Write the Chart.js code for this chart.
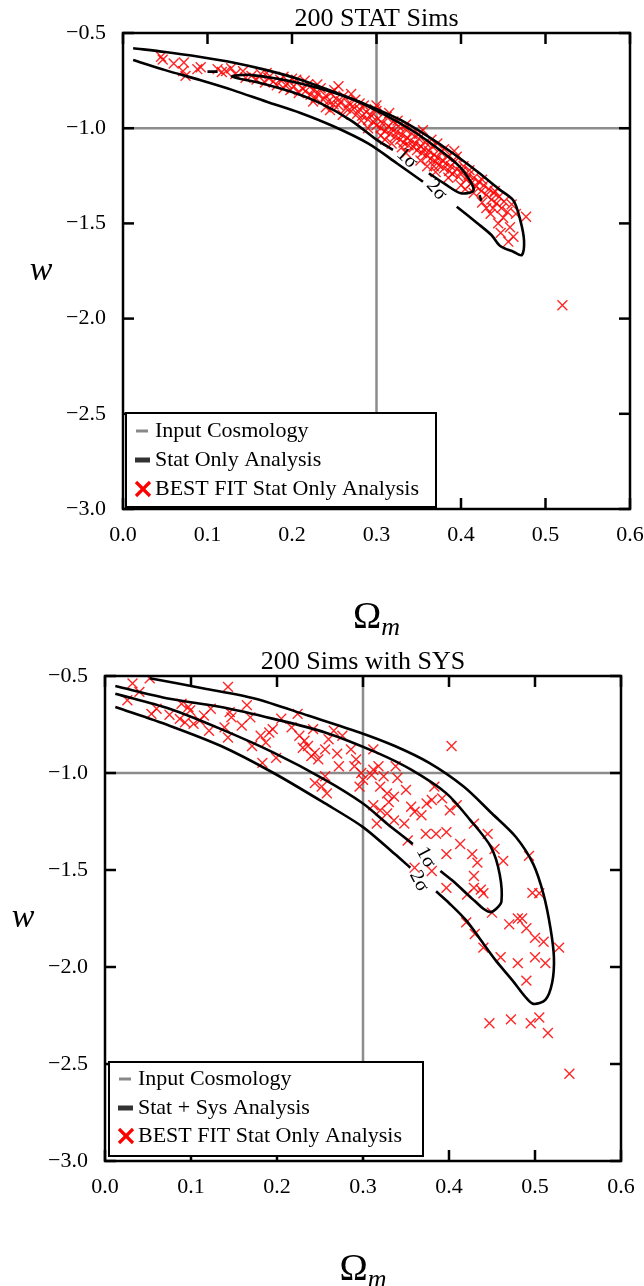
<!DOCTYPE html>
<html>
<head>
<meta charset="utf-8">
<script src="https://cdn.jsdelivr.net/npm/chart.js@4.4.0/dist/chart.umd.min.js"></script>
<style>
html, body { margin: 0; padding: 0; background: #fff; }
body { width: 644px; height: 1286px; position: relative; overflow: hidden; }
.panel { position: absolute; left: 0; width: 644px; }
</style>
</head>
<body>
<div class="panel" style="top:0;height:640px"><canvas id="statChart"></canvas></div>
<div class="panel" style="top:640px;height:646px"><canvas id="sysChart"></canvas></div>
<script>
// tick values
const xTicks = [0.0, 0.1, 0.2, 0.3, 0.4, 0.5, 0.6];
const yTicks = [-3.0, -2.5, -2.0, -1.5, -1.0, -0.5];

// input cosmology
const inputOmega = 0.3;
const inputW = -1.0;

// best fits, 200 STAT sims  [Omega_m, w]
const statFits = [
  [0.045,-0.625],[0.047,-0.640],[0.060,-0.660],[0.072,-0.655],[0.071,-0.700],[0.074,-0.725],
  [0.088,-0.690],[0.092,-0.680],[0.112,-0.690],[0.117,-0.705],[0.122,-0.700],[0.128,-0.685],
  [0.133,-0.715],[0.142,-0.700],[0.145,-0.735],[0.152,-0.725],[0.158,-0.745],[0.163,-0.715],
  [0.168,-0.760],[0.172,-0.735],[0.178,-0.755],[0.182,-0.775],[0.186,-0.745],[0.190,-0.790],
  [0.194,-0.765],[0.198,-0.800],[0.202,-0.780],[0.205,-0.745],[0.208,-0.815],[0.212,-0.790],
  [0.216,-0.805],[0.219,-0.770],[0.222,-0.825],[0.225,-0.800],[0.228,-0.840],[0.231,-0.815],
  [0.234,-0.790],[0.237,-0.850],[0.240,-0.830],[0.243,-0.860],[0.246,-0.815],[0.249,-0.875],
  [0.252,-0.845],[0.255,-0.880],[0.258,-0.860],[0.261,-0.830],[0.264,-0.895],[0.267,-0.870],
  [0.270,-0.910],[0.272,-0.885],[0.275,-0.850],[0.277,-0.925],[0.280,-0.900],[0.283,-0.935],
  [0.285,-0.880],[0.288,-0.915],[0.290,-0.955],[0.293,-0.930],[0.296,-0.965],[0.298,-0.900],
  [0.300,-0.985],[0.302,-0.950],[0.305,-1.000],[0.307,-0.975],[0.310,-1.015],[0.312,-0.940],
  [0.314,-0.990],[0.316,-1.030],[0.318,-1.005],[0.320,-0.965],[0.322,-1.045],[0.324,-1.020],
  [0.326,-0.990],[0.328,-1.060],[0.330,-1.035],[0.332,-1.075],[0.334,-1.005],[0.336,-1.050],
  [0.338,-1.090],[0.340,-1.065],[0.342,-1.030],[0.344,-1.100],[0.346,-1.080],[0.348,-1.115],
  [0.350,-1.055],[0.352,-1.095],[0.354,-1.130],[0.356,-1.110],[0.358,-1.075],[0.360,-1.145],
  [0.362,-1.120],[0.364,-1.160],[0.366,-1.095],[0.368,-1.140],[0.370,-1.175],[0.372,-1.155],
  [0.374,-1.195],[0.376,-1.125],[0.378,-1.170],[0.380,-1.210],[0.382,-1.185],[0.384,-1.150],
  [0.386,-1.225],[0.388,-1.200],[0.390,-1.240],[0.393,-1.175],[0.395,-1.215],[0.397,-1.255],
  [0.400,-1.230],[0.403,-1.200],[0.406,-1.270],[0.409,-1.245],[0.412,-1.290],[0.415,-1.260],
  [0.418,-1.305],[0.421,-1.280],[0.424,-1.330],[0.427,-1.300],[0.430,-1.350],[0.433,-1.320],
  [0.436,-1.375],[0.439,-1.340],[0.442,-1.395],[0.445,-1.360],[0.448,-1.420],[0.451,-1.385],
  [0.455,-1.440],[0.438,-1.420],[0.444,-1.500],[0.456,-1.596],[0.462,-1.570],[0.477,-1.465],
  [0.425,-1.390],[0.415,-1.340],[0.400,-1.300],[0.370,-1.230],[0.360,-1.200],[0.330,-1.100],
  [0.310,-1.060],[0.290,-1.000],[0.260,-0.930],[0.240,-0.890],[0.350,-1.030],[0.325,-0.960],
  [0.300,-0.910],[0.280,-0.870],[0.270,-0.820],[0.250,-0.800],[0.230,-0.770],[0.215,-0.750],
  [0.190,-0.730],[0.170,-0.710],[0.395,-1.150],[0.380,-1.110],[0.365,-1.060],[0.410,-1.220],
  [0.425,-1.270],[0.440,-1.330],[0.465,-1.450],[0.460,-1.400],[0.450,-1.470],[0.435,-1.450],
  [0.520,-1.930],[0.282,-0.960],[0.305,-1.040],[0.318,-1.080],[0.335,-1.130],[0.352,-1.170],
  [0.368,-1.200],[0.385,-1.260],[0.405,-1.320],[0.430,-1.420],[0.447,-1.550],[0.458,-1.520],
  [0.300,-0.880],[0.315,-0.920],[0.335,-0.980],[0.355,-1.010],[0.372,-1.080],[0.392,-1.120],
  [0.255,-0.780],[0.200,-0.740],[0.245,-0.905],[0.225,-0.860]
];

// contours, STAT only (null = break for labels)
const stat2Sigma = [
  [0.012,-0.580],[0.050,-0.600],[0.090,-0.625],[0.130,-0.655],[0.170,-0.695],[0.210,-0.745],
  [0.250,-0.810],[0.290,-0.880],[0.330,-0.960],[0.360,-1.040],[0.390,-1.130],[0.420,-1.230],
  [0.445,-1.320],[0.462,-1.380],[0.470,-1.480],[0.4746,-1.590],[0.472,-1.666],
  [0.462,-1.649],[0.446,-1.617],[0.436,-1.561],[0.419,-1.498],[0.395,-1.412],null,
  [0.355,-1.281],[0.324,-1.184],[0.290,-1.080],[0.249,-0.990],[0.210,-0.920],[0.170,-0.861],
  [0.130,-0.800],[0.091,-0.747],[0.050,-0.695],[0.012,-0.642]
];
const stat1Sigma = [
  [0.362,-1.237],[0.380,-1.290],[0.400,-1.342],[0.415,-1.324],[0.400,-1.210],[0.375,-1.115],
  [0.345,-1.020],[0.310,-0.930],[0.270,-0.845],[0.210,-0.765],[0.150,-0.720],[0.129,-0.729],
  [0.160,-0.760],[0.200,-0.810],[0.234,-0.870],[0.270,-0.960],[0.300,-1.060],[0.3195,-1.114],
  null,[0.100,-0.703],[0.112,-0.703],null,[0.422,-1.352],[0.424,-1.382]
];

// best fits, 200 sims with SYS  [Omega_m, w]
const sysFits = [
  [0.032,-0.538],[0.040,-0.582],[0.026,-0.625],[0.054,-0.695],[0.060,-0.669],[0.052,-0.512],
  [0.089,-0.643],[0.097,-0.660],[0.099,-0.678],[0.087,-0.721],[0.093,-0.739],[0.103,-0.747],
  [0.115,-0.704],[0.123,-0.669],[0.121,-0.782],[0.143,-0.556],[0.145,-0.686],[0.147,-0.713],
  [0.139,-0.765],[0.143,-0.817],[0.159,-0.756],[0.169,-0.713],[0.171,-0.861],[0.183,-0.948],
  [0.181,-0.808],[0.191,-0.791],[0.195,-0.774],[0.187,-0.843],[0.199,-0.922],[0.217,-0.765],
  [0.224,-0.695],[0.226,-0.808],[0.232,-0.834],[0.236,-0.861],[0.242,-0.774],[0.244,-0.896],
  [0.248,-0.930],[0.240,-0.913],[0.256,-0.878],[0.260,-0.826],[0.266,-0.782],[0.276,-0.808],
  [0.286,-0.878],[0.272,-0.965],[0.256,-1.017],[0.252,-1.070],[0.258,-1.105],[0.244,-1.052],
  [0.292,-0.930],[0.290,-0.965],[0.298,-1.000],[0.300,-1.035],[0.296,-1.070],[0.312,-0.878],
  [0.312,-0.983],[0.318,-0.965],[0.324,-1.017],[0.338,-0.965],[0.340,-1.026],[0.320,-1.070],
  [0.328,-1.105],[0.336,-1.122],[0.350,-1.087],[0.312,-1.166],[0.320,-1.192],[0.328,-1.209],
  [0.316,-1.261],[0.336,-1.244],[0.348,-1.261],[0.356,-1.174],[0.360,-1.200],[0.368,-1.218],
  [0.374,-1.157],[0.380,-1.139],[0.392,-1.131],[0.383,-1.070],[0.401,-1.192],[0.409,-1.166],
  [0.373,-1.314],[0.385,-1.314],[0.397,-1.305],[0.352,-1.348],[0.397,-1.418],[0.413,-1.366],
  [0.429,-1.261],[0.445,-1.314],[0.427,-1.418],[0.433,-1.462],[0.453,-1.392],[0.463,-1.453],
  [0.493,-1.427],[0.403,-0.861],[0.360,-1.488],[0.380,-1.505],[0.397,-1.592],[0.429,-1.531],
  [0.429,-1.592],[0.437,-1.601],[0.421,-1.627],[0.497,-1.618],[0.440,-1.620],[0.450,-1.720],
  [0.470,-1.780],[0.480,-1.750],[0.485,-1.750],[0.490,-1.800],[0.500,-1.850],[0.510,-1.870],
  [0.528,-1.900],[0.505,-1.620],[0.460,-1.950],[0.480,-1.980],[0.500,-1.950],[0.512,-1.980],
  [0.490,-2.070],[0.505,-2.260],[0.472,-2.270],[0.447,-2.290],[0.495,-2.290],[0.515,-2.340],
  [0.540,-2.550],[0.420,-1.770],[0.430,-1.830],[0.440,-1.900],[0.205,-0.720],[0.165,-0.650],
  [0.110,-0.730],[0.075,-0.700],[0.270,-0.900],[0.230,-0.870],[0.310,-1.010],[0.330,-1.150]
];

// contours, STAT + SYS
const sys2Sigma = [
  [0.052,-0.512],[0.115,-0.564],[0.175,-0.617],[0.236,-0.704],[0.296,-0.791],[0.337,-0.861],
  [0.377,-0.948],[0.417,-1.070],[0.450,-1.209],[0.478,-1.331],[0.498,-1.470],[0.510,-1.627],
  [0.518,-1.800],[0.522,-1.950],[0.520,-2.080],[0.512,-2.170],[0.498,-2.190],[0.488,-2.150],
  [0.474,-2.070],[0.455,-1.970],[0.440,-1.880],[0.420,-1.760],[0.400,-1.670],[0.385,-1.610],
  null,[0.355,-1.488],[0.337,-1.418],[0.300,-1.279],[0.256,-1.157],[0.196,-1.000],
  [0.135,-0.861],[0.075,-0.756],[0.012,-0.660]
];
const sys1Sigma = [
  [0.012,-0.552],[0.075,-0.617],[0.135,-0.660],[0.196,-0.721],[0.256,-0.791],[0.316,-0.895],
  [0.356,-0.983],[0.397,-1.105],[0.425,-1.244],[0.449,-1.383],[0.459,-1.523],[0.461,-1.662],
  [0.455,-1.700],[0.448,-1.717],[0.440,-1.700],[0.430,-1.660],[0.420,-1.620],[0.405,-1.558],
  [0.390,-1.505],null,[0.358,-1.366],[0.348,-1.331],[0.328,-1.261],[0.300,-1.157],
  [0.256,-1.035],[0.196,-0.895],[0.135,-0.774],[0.075,-0.669],[0.012,-0.591]
];

const SERIF = '"Liberation Serif", "DejaVu Serif", serif';
const minus = v => (v < 0 ? '\u2212' : '') + Math.abs(v).toFixed(1);
const toXY = arr => arr.map(p => p ? { x: p[0], y: p[1] } : { x: null, y: null });

function line(ctx, x1, y1, x2, y2) {
    ctx.beginPath();
    ctx.moveTo(x1, y1);
    ctx.lineTo(x2, y2);
    ctx.stroke();
}

// frame, inward ticks, titles, legend and sigma labels
const panelDecor = {
    id: 'panelDecor',
    afterDatasetsDraw(chart, args, o) {
        const ctx = chart.ctx;
        const a = chart.chartArea;
        const sx = chart.scales.x, sy = chart.scales.y;
        ctx.save();

        ctx.strokeStyle = '#000';
        ctx.lineWidth = 2.5;
        ctx.strokeRect(a.left, a.top, a.right - a.left, a.bottom - a.top);
        xTicks.forEach(v => {
            const px = sx.getPixelForValue(v);
            line(ctx, px, a.bottom, px, a.bottom - 11);
            line(ctx, px, a.top, px, a.top + 11);
        });
        yTicks.forEach(v => {
            const py = sy.getPixelForValue(v);
            line(ctx, a.left, py, a.left + 11, py);
            line(ctx, a.right, py, a.right - 11, py);
        });

        // sigma labels along contours
        ctx.fillStyle = '#000';
        ctx.font = '20px ' + SERIF;
        ctx.textAlign = 'center';
        ctx.textBaseline = 'middle';
        o.sigma.forEach(s => {
            ctx.save();
            ctx.translate(sx.getPixelForValue(s.x), sy.getPixelForValue(s.y));
            ctx.rotate(s.rot * Math.PI / 180);
            ctx.fillText(s.text, 0, 0);
            ctx.restore();
        });

        // title
        const cx = (a.left + a.right) / 2;
        ctx.font = '26px ' + SERIF;
        ctx.textBaseline = 'alphabetic';
        ctx.fillText(o.title, cx, o.titleY);

        // axis titles
        ctx.font = 'italic 34px ' + SERIF;
        ctx.textBaseline = 'middle';
        ctx.fillText('w', a.left - 82, (a.top + a.bottom) / 2);
        ctx.textBaseline = 'alphabetic';
        ctx.textAlign = 'left';
        ctx.font = '38px ' + SERIF;
        const ow = ctx.measureText('\u03A9').width;
        ctx.font = 'italic 26px ' + SERIF;
        const mw = ctx.measureText('m').width;
        const x0 = cx - (ow + mw) / 2;
        ctx.font = '38px ' + SERIF;
        ctx.fillText('\u03A9', x0, o.omegaY);
        ctx.font = 'italic 26px ' + SERIF;
        ctx.fillText('m', x0 + ow, o.omegaY + 7);

        // legend
        const b = o.legend;
        ctx.fillStyle = '#fff';
        ctx.fillRect(b.x, b.y, b.w, b.h);
        ctx.strokeStyle = '#000';
        ctx.lineWidth = 2;
        ctx.strokeRect(b.x, b.y, b.w, b.h);
        ctx.font = '22px ' + SERIF;
        ctx.fillStyle = '#000';
        ctx.textBaseline = 'middle';
        const mx = b.x + 9;
        b.rows.forEach((ry, i) => {
            ctx.fillText(o.labels[i], b.x + 29, ry);
        });
        ctx.strokeStyle = '#888';
        ctx.lineWidth = 3;
        line(ctx, mx + 1, b.rows[0], mx + 13, b.rows[0]);
        ctx.strokeStyle = '#333';
        ctx.lineWidth = 5;
        line(ctx, mx, b.rows[1], mx + 15, b.rows[1]);
        ctx.strokeStyle = '#ff0000';
        ctx.lineWidth = 3.2;
        line(ctx, mx + 1, b.rows[2] - 7, mx + 15, b.rows[2] + 7);
        line(ctx, mx + 1, b.rows[2] + 7, mx + 15, b.rows[2] - 7);

        ctx.restore();
    }
};

function makeChart(id, fits, c1, c2, pad, yWidth, xHeight, decor) {
    const ctx = document.getElementById(id).getContext('2d');
    return new Chart(ctx, {
        type: 'scatter',
        data: {
            datasets: [
                {
                    label: 'Input Cosmology',
                    data: [{ x: inputOmega, y: -3.0 }, { x: inputOmega, y: -0.5 }, { x: null, y: null },
                           { x: 0.0, y: inputW }, { x: 0.6, y: inputW }],
                    showLine: true, spanGaps: false, pointRadius: 0,
                    borderColor: '#8c8c8c', borderWidth: 2.5, order: 3
                },
                {
                    label: 'BEST FIT Stat Only Analysis',
                    data: toXY(fits),
                    pointStyle: 'crossRot', pointRadius: 7,
                    borderColor: 'rgba(255,0,0,0.85)', backgroundColor: 'rgba(255,0,0,0.85)',
                    pointBorderWidth: 1.4, order: 2
                },
                {
                    label: '2 sigma',
                    data: toXY(c2),
                    showLine: true, spanGaps: false, pointRadius: 0,
                    borderColor: '#000', borderWidth: 2.6, tension: 0.3, order: 1
                },
                {
                    label: '1 sigma',
                    data: toXY(c1),
                    showLine: true, spanGaps: false, pointRadius: 0,
                    borderColor: '#000', borderWidth: 2.6, tension: 0.3, order: 1
                }
            ]
        },
        options: {
            responsive: true,
            maintainAspectRatio: false,
            animation: false,
            layout: { padding: pad },
            plugins: {
                legend: { display: false },
                tooltip: { enabled: false },
                panelDecor: decor
            },
            scales: {
                x: {
                    type: 'linear', min: 0, max: 0.6,
                    grid: { display: false, drawTicks: false },
                    border: { display: false },
                    ticks: {
                        stepSize: 0.1, padding: 13, color: '#000',
                        font: { family: SERIF, size: 22 },
                        callback: v => v.toFixed(1)
                    },
                    afterFit: s => { s.height = xHeight; s.paddingLeft = 0; s.paddingRight = 0; }
                },
                y: {
                    type: 'linear', min: -3.0, max: -0.5,
                    grid: { display: false, drawTicks: false },
                    border: { display: false },
                    ticks: {
                        stepSize: 0.5, padding: 17, color: '#000',
                        font: { family: SERIF, size: 22 },
                        callback: v => minus(v)
                    },
                    afterFit: s => { s.width = yWidth; s.paddingTop = 0; s.paddingBottom = 0; }
                }
            }
        },
        plugins: [panelDecor]
    });
}

makeChart('statChart', statFits, stat1Sigma, stat2Sigma,
    { left: 0, right: 14, top: 33, bottom: 0 }, 123, 131,
    {
        title: '200 STAT Sims', titleY: 26, omegaY: 628,
        labels: ['Input Cosmology', 'Stat Only Analysis', 'BEST FIT Stat Only Analysis'],
        legend: { x: 126, y: 413, w: 310, h: 94, rows: [431, 460, 489] },
        sigma: [{ text: '1\u03C3', x: 0.336, y: -1.158, rot: 42 },
                { text: '2\u03C3', x: 0.371, y: -1.325, rot: 48 }]
    });

makeChart('sysChart', sysFits, sys1Sigma, sys2Sigma,
    { left: 0, right: 23, top: 36, bottom: 0 }, 105, 125,
    {
        title: '200 Sims with SYS', titleY: 29, omegaY: 640,
        labels: ['Input Cosmology', 'Stat + Sys Analysis', 'BEST FIT Stat Only Analysis'],
        legend: { x: 109, y: 422, w: 314, h: 94, rows: [439, 468, 496] },
        sigma: [{ text: '1\u03C3', x: 0.373, y: -1.435, rot: 62 },
                { text: '2\u03C3', x: 0.365, y: -1.558, rot: 62 }]
    });
</script>
</body>
</html>
